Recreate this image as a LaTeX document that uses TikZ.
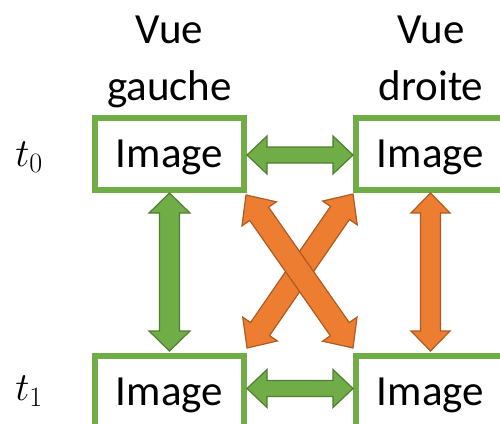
\RequirePackage{fix-cm}
\documentclass[tikz,border=0pt]{standalone}
\usepackage{fontspec}
\setmainfont{Carlito}
\usetikzlibrary{calc}
\definecolor{gfill}{HTML}{70AD47}
\definecolor{gline}{HTML}{507E32}
\definecolor{ofill}{HTML}{ED7D31}
\definecolor{oline}{HTML}{AE5A21}
% #1 style, #2 start, #3 end, #4 shaft half width, #5 head half width, #6 head length
\newcommand{\dblarrow}[6]{%
  \draw[#1] (#2)
    -- ($(#2)!#6!(#3)!#5!90:(#3)$)
    -- ($(#2)!#6!(#3)!#4!90:(#3)$)
    -- ($(#3)!#6!(#2)!#4!-90:(#2)$)
    -- ($(#3)!#6!(#2)!#5!-90:(#2)$)
    -- (#3)
    -- ($(#3)!#6!(#2)!#5!90:(#2)$)
    -- ($(#3)!#6!(#2)!#4!90:(#2)$)
    -- ($(#2)!#6!(#3)!#4!-90:(#3)$)
    -- ($(#2)!#6!(#3)!#5!-90:(#3)$)
    -- cycle;}
\tikzset{
  bigtext/.style={font=\fontsize{43}{50}\selectfont},
  imgbox/.style={draw=gfill, line width=6pt, fill=white, minimum width=149pt,
    minimum height=72pt, inner sep=0pt, text height=26pt, text depth=0pt, bigtext},
  head/.style={anchor=base, inner sep=0pt, bigtext},
  tlabel/.style={anchor=base, inner sep=0pt, font=\fontsize{40}{48}\selectfont},
  greenarrow/.style={fill=gfill, draw=gline, line width=1.2pt, line join=miter},
  orangearrow/.style={fill=ofill, draw=oline, line width=1.2pt, line join=miter}
}
\begin{document}
\begin{tikzpicture}[x=1pt, y=-1pt]
\useasboundingbox (0,0) rectangle (500,423);
\clip (0,0) rectangle (500,423);
% headings
\node[head] (vl1) at (169.5,43) {Vue};
\node[head] (vl2) at (169.5,100) {gauche};
\node[head] (vr1) at (431,43) {Vue};
\node[head] (vr2) at (431,100) {droite};
% time labels
\node[tlabel] (t0) at (29,166) {$t_0$};
\node[tlabel] (t1) at (29,400) {$t_1$};
% boxes
\node[imgbox] (tl) at (169.5,154) {Image};
\node[imgbox] (tr) at (430.5,154) {Image};
\node[imgbox] (bl) at (169.5,392) {Image};
\node[imgbox] (br) at (430.5,392) {Image};
% arrow end points
\coordinate (h1a) at (247,155);
\coordinate (h1b) at (353,155);
\coordinate (h2a) at (247,388.5);
\coordinate (h2b) at (353,388.5);
\coordinate (v1a) at (169.5,193);
\coordinate (v1b) at (169.5,351);
\coordinate (v2a) at (430.5,193);
\coordinate (v2b) at (430.5,351);
\coordinate (d1a) at (353,194);
\coordinate (d1b) at (247,348);
\coordinate (d2a) at (246,195);
\coordinate (d2b) at (353,348);
% arrows
\dblarrow{greenarrow}{h1a}{h1b}{8pt}{19pt}{20pt}
\dblarrow{greenarrow}{h2a}{h2b}{8pt}{19pt}{20pt}
\dblarrow{greenarrow}{v1a}{v1b}{10pt}{20.5pt}{20pt}
\dblarrow{orangearrow}{v2a}{v2b}{10pt}{19.5pt}{20pt}
\dblarrow{orangearrow}{d1a}{d1b}{11.5pt}{21pt}{23pt}
\dblarrow{orangearrow}{d2a}{d2b}{11.5pt}{21pt}{23pt}
\end{tikzpicture}
\end{document}
